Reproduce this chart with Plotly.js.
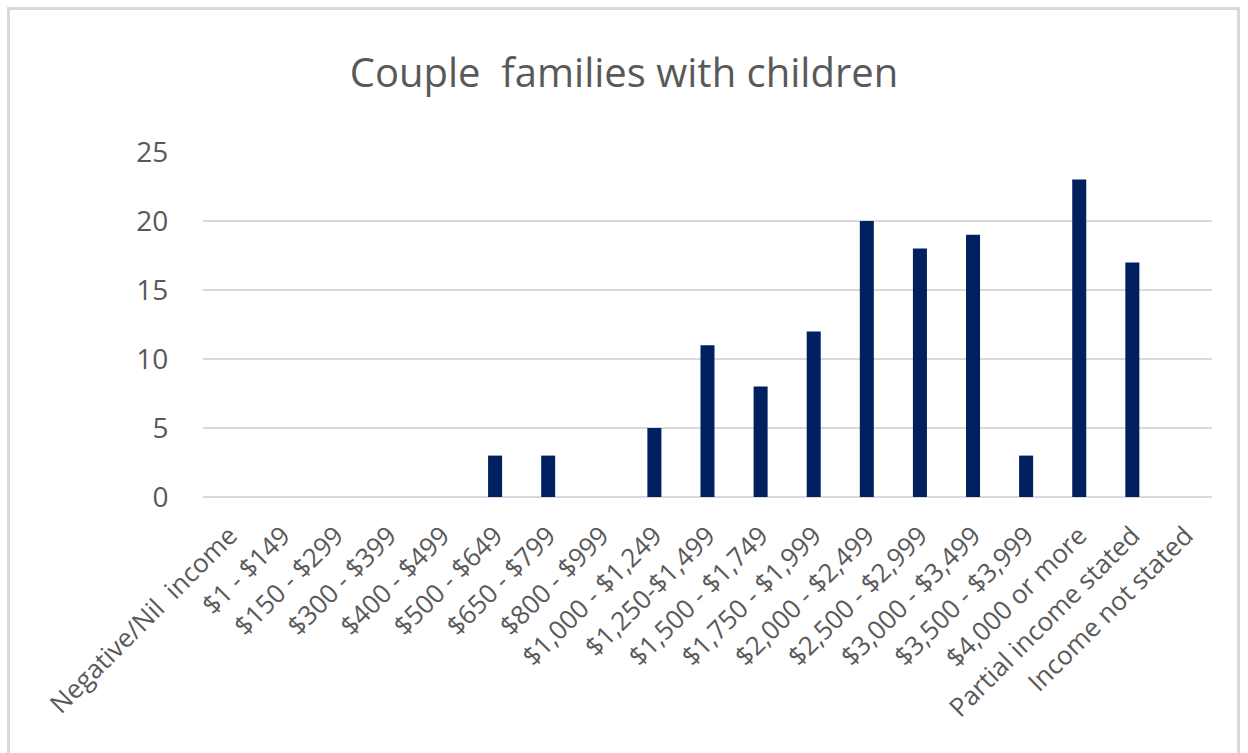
<!DOCTYPE html>
<html>
<head>
<meta charset="utf-8">
<script src="https://cdn.plot.ly/plotly-3.0.1.min.js"></script>
<style>
  html, body { margin: 0; padding: 0; background: #ffffff; }
  #wrap { position: relative; width: 1248px; height: 753px; overflow: hidden; }
  #chart { width: 1248px; height: 753px; }
  #frame { position: absolute; left: 7px; top: 7px; width: 1233px; height: 760px;
           border: 3px solid #d9d9d9; box-sizing: border-box; pointer-events: none; }
</style>
</head>
<body>
<div id="wrap">
  <div id="chart"></div>
  <div id="frame"></div>
</div>
<script>
const categories = [
  "Negative/Nil  income", "$1 - $149", "$150 - $299", "$300 - $399", "$400 - $499",
  "$500 - $649", "$650 - $799", "$800 - $999", "$1,000 - $1,249", "$1,250-$1,499",
  "$1,500 - $1,749", "$1,750 - $1,999", "$2,000 - $2,499", "$2,500 - $2,999",
  "$3,000 - $3,499", "$3,500 - $3,999", "$4,000 or more", "Partial income stated",
  "Income not stated"
];
const values = [0, 0, 0, 0, 0, 3, 3, 0, 5, 11, 8, 12, 20, 18, 19, 3, 23, 17, 0];
const yTicks = [0, 5, 10, 15, 20, 25];
const chartTitle = "Couple  families with children";

const grey = "#595959";
const trace = {
  type: "bar",
  x: categories,
  y: values,
  marker: { color: "#002060", line: { width: 0 } },
  hoverinfo: "x+y"
};

const layout = {
  width: 1248,
  height: 753,
  paper_bgcolor: "#ffffff",
  plot_bgcolor: "#ffffff",
  margin: { l: 203, r: 36, t: 152, b: 256, pad: 0 },
  bargap: 0.736,
  showlegend: false,
  title: {
    text: chartTitle,
    x: 0.5, xref: "container", xanchor: "center",
    y: 1 - 73 / 753, yref: "container", yanchor: "middle",
    font: { family: "Open Sans, sans-serif", size: 40, color: grey }
  },
  xaxis: {
    type: "category",
    tickangle: -45,
    tickfont: { family: "Open Sans, sans-serif", size: 26, color: grey },
    ticks: "outside", ticklen: 12, tickcolor: "rgba(0,0,0,0)",
    showgrid: false, zeroline: false, showline: false,
    fixedrange: true
  },
  yaxis: {
    range: [0, 25],
    tickvals: yTicks,
    ticktext: yTicks.map(String),
    tickfont: { family: "Open Sans, sans-serif", size: 28, color: grey },
    ticks: "outside", ticklen: 28, tickcolor: "rgba(0,0,0,0)",
    showgrid: true, gridcolor: "#d9d9d9", gridwidth: 2.5,
    zeroline: true, zerolinecolor: "#d9d9d9", zerolinewidth: 2.5,
    showline: false, fixedrange: true
  }
};

Plotly.newPlot("chart", [trace], layout, { displayModeBar: false, staticPlot: true });
</script>
</body>
</html>
